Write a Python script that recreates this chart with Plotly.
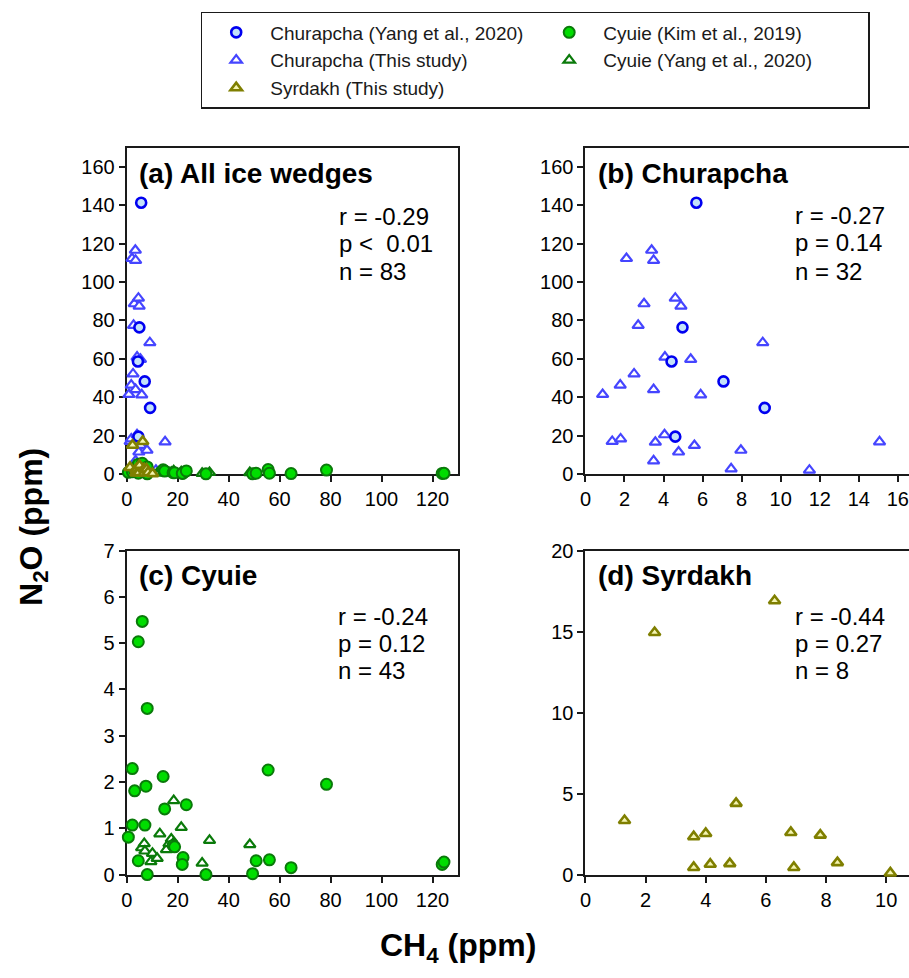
import plotly.graph_objects as go

# ---------------- data ----------------
chur_yang_x = [5.68, 4.97, 4.41, 7.07, 9.18, 4.60]
chur_yang_y = [141.4, 76.4, 58.6, 48.2, 34.4, 19.4]

chur_this_x = [0.88, 1.37, 1.80, 1.78, 2.10, 2.49, 2.70, 3.00, 3.39, 3.49, 3.49, 3.58, 3.49,
               4.05, 4.07, 4.60, 4.89, 4.77, 5.39, 5.58, 5.90, 7.46, 7.96, 9.08, 11.47, 15.06]
chur_this_y = [41.4, 16.9, 18.2, 46.3, 112.3, 52.1, 77.4, 88.7, 116.6, 111.3, 43.9, 16.5, 6.8,
               20.4, 60.9, 91.6, 87.5, 11.4, 59.7, 14.8, 41.2, 2.6, 12.3, 68.4, 1.9, 16.7]

syr_x = [1.30, 2.30, 3.60, 3.60, 4.00, 4.15, 4.80, 5.01, 6.29, 6.83, 6.93, 7.81, 8.38, 10.14]
syr_y = [3.34, 14.94, 2.34, 0.44, 2.54, 0.64, 0.68, 4.40, 16.9, 2.6, 0.44, 2.44, 0.74, 0.10]

kim_x = [0.65, 2.21, 2.21, 3.12, 4.55, 4.55, 6.11, 7.15, 7.54, 8.06, 8.06, 14.3, 14.9, 18.2,
         18.8, 22.1, 21.8, 23.4, 31.1, 49.4, 50.8, 55.5, 56.0, 64.5, 78.4, 123.8, 124.5]
kim_y = [0.81, 2.29, 1.07, 1.81, 5.03, 0.30, 5.47, 1.07, 1.91, 3.59, 0.0, 2.12, 1.42, 0.63,
         0.60, 0.37, 0.22, 1.51, 0.0, 0.02, 0.30, 2.26, 0.32, 0.15, 1.95, 0.22, 0.27]

cy_yang_x = [5.85, 6.89, 7.15, 9.49, 10.1, 11.96, 13.0, 15.6, 16.6, 17.5, 18.2, 18.45, 21.4,
             29.6, 32.5, 48.3]
cy_yang_y = [0.58, 0.67, 0.51, 0.28, 0.46, 0.35, 0.88, 0.54, 0.67, 0.77, 0.67, 1.60, 1.02,
             0.25, 0.74, 0.65]

panel_titles = ["(a) All ice wedges", "(b) Churapcha", "(c) Cyuie", "(d) Syrdakh"]
panel_stats = [["r = -0.29", "p <\u00a0\u00a00.01", "n = 83"],
               ["r = -0.27", "p = 0.14", "n = 32"],
               ["r = -0.24", "p = 0.12", "n = 43"],
               ["r = -0.44", "p = 0.27", "n = 8"]]

# ---------------- styles ----------------
W, H = 909, 978
FONT = "Liberation Sans, Arial, sans-serif"

styles = {
    "chur_this": dict(name="Churapcha (This study)", symbol="triangle-up", size=10,
                      color="white", line=dict(color="#4545FF", width=2.2), rank=3),
    "chur_yang": dict(name="Churapcha (Yang et al., 2020)", symbol="circle", size=10,
                      color="#C4E2FA", line=dict(color="#0000F0", width=2.6), rank=1),
    "cy_yang": dict(name="Cyuie (Yang et al., 2020)", symbol="triangle-up", size=10,
                    color="white", line=dict(color="#0A7A0A", width=2.2), rank=4),
    "kim": dict(name="Cyuie (Kim et al., 2019)", symbol="circle", size=11,
                color="#00DD00", line=dict(color="#0A7A0A", width=2.0), rank=2),
    "syr": dict(name="Syrdakh (This study)", symbol="triangle-up", size=10,
                color="#F4F4B0", line=dict(color="#7F7F00", width=2.6), rank=5),
}

data = {
    "chur_this": (chur_this_x, chur_this_y),
    "chur_yang": (chur_yang_x, chur_yang_y),
    "cy_yang": (cy_yang_x, cy_yang_y),
    "kim": (kim_x, kim_y),
    "syr": (syr_x, syr_y),
}

panels = {
    1: ["chur_this", "chur_yang", "cy_yang", "kim", "syr"],
    2: ["chur_this", "chur_yang"],
    3: ["cy_yang", "kim"],
    4: ["syr"],
}

fig = go.Figure()
for p, keys in panels.items():
    for k in keys:
        s = styles[k]
        x, y = data[k]
        fig.add_trace(go.Scatter(
            x=x, y=y, mode="markers", name=s["name"],
            legendgroup=k, showlegend=(p == 1), legendrank=s["rank"],
            marker=dict(symbol=s["symbol"], size=s["size"], color=s["color"], line=s["line"]),
            xaxis="x" if p == 1 else f"x{p}", yaxis="y" if p == 1 else f"y{p}",
            cliponaxis=False, hoverinfo="skip",
        ))

# ---------------- axes ----------------
def px_x(v):
    return v / W

def px_y(v):
    return 1 - v / H

dom_x_left = [px_x(121.5), px_x(455)]
dom_x_right = [px_x(583.3), 1.0]
dom_y_top = [px_y(473.5), px_y(140)]
dom_y_bot = [px_y(883.5), px_y(552)]

axis_common = dict(showline=True, linecolor="#1a1a1a", linewidth=2, ticks="outside",
                   ticklen=6, tickwidth=1.5, tickcolor="#1a1a1a", showgrid=False,
                   zeroline=False, layer="below traces",
                   tickfont=dict(family=FONT, size=20, color="black"))

cfg = {
    1: dict(xd=dom_x_left, yd=dom_y_top, xr=[0, 130], yr=[0, 170], xdt=20, ydt=20, ymirror=True),
    2: dict(xd=dom_x_right, yd=dom_y_top, xr=[0, 16.57], yr=[0, 170], xdt=2, ydt=20, ymirror=False),
    3: dict(xd=dom_x_left, yd=dom_y_bot, xr=[0, 130], yr=[0, 7], xdt=20, ydt=1, ymirror=True),
    4: dict(xd=dom_x_right, yd=dom_y_bot, xr=[0, 10.76], yr=[0, 20], xdt=2, ydt=5, ymirror=False),
}
layout_axes = {}
for p, c in cfg.items():
    xn = "xaxis" if p == 1 else f"xaxis{p}"
    yn = "yaxis" if p == 1 else f"yaxis{p}"
    xa = "x" if p == 1 else f"x{p}"
    ya = "y" if p == 1 else f"y{p}"
    layout_axes[xn] = dict(axis_common, domain=c["xd"], range=c["xr"], dtick=c["xdt"],
                           tick0=0, anchor=ya, mirror=True)
    layout_axes[yn] = dict(axis_common, domain=c["yd"], range=c["yr"], dtick=c["ydt"],
                           tick0=0, anchor=xa, mirror=c["ymirror"])

# ---------------- annotations ----------------
ann = []
title_pos = [(132, 166), (594, 166), (132, 578), (594, 578)]
stats_pos = [(333, [210, 238, 267]), (792, [209, 237, 266]),
             (332, [619, 647, 675]), (792, [619, 647, 675])]
for i in range(4):
    tx, ty = title_pos[i]
    ann.append(dict(text=f"<b>{panel_titles[i]}</b>", x=px_x(tx), y=px_y(ty), xref="paper",
                    yref="paper", xanchor="left", yanchor="middle", showarrow=False,
                    font=dict(family=FONT, size=28, color="black")))
    sx, sys_ = stats_pos[i]
    for line, sy in zip(panel_stats[i], sys_):
        ann.append(dict(text=line, x=px_x(sx), y=px_y(sy), xref="paper", yref="paper",
                        xanchor="left", yanchor="middle", showarrow=False,
                        font=dict(family=FONT, size=24, color="black")))

ann.append(dict(text="<b>N<sub>2</sub>O (ppm)</b>", x=px_x(27), y=px_y(528), xref="paper",
                yref="paper", xanchor="center", yanchor="middle", textangle=-90,
                showarrow=False, font=dict(family=FONT, size=32, color="black")))
ann.append(dict(text="<b>CH<sub>4</sub> (ppm)</b>", x=px_x(455), y=px_y(958), xref="paper",
                yref="paper", xanchor="center", yanchor="middle",
                showarrow=False, font=dict(family=FONT, size=32, color="black")))

fig.update_layout(
    width=W, height=H,
    margin=dict(l=0, r=0, t=0, b=0),
    paper_bgcolor="white", plot_bgcolor="white",
    annotations=ann,
    legend=dict(orientation="h", x=px_x(196), y=px_y(1), xanchor="left", yanchor="top",
                bordercolor="#1a1a1a", borderwidth=1.5, bgcolor="white",
                entrywidth=260, entrywidthmode="pixels", itemwidth=58,
                font=dict(family=FONT, size=19, color="#1a1a1a"), traceorder="normal"),
    **layout_axes,
)

fig.write_html("out.html")
